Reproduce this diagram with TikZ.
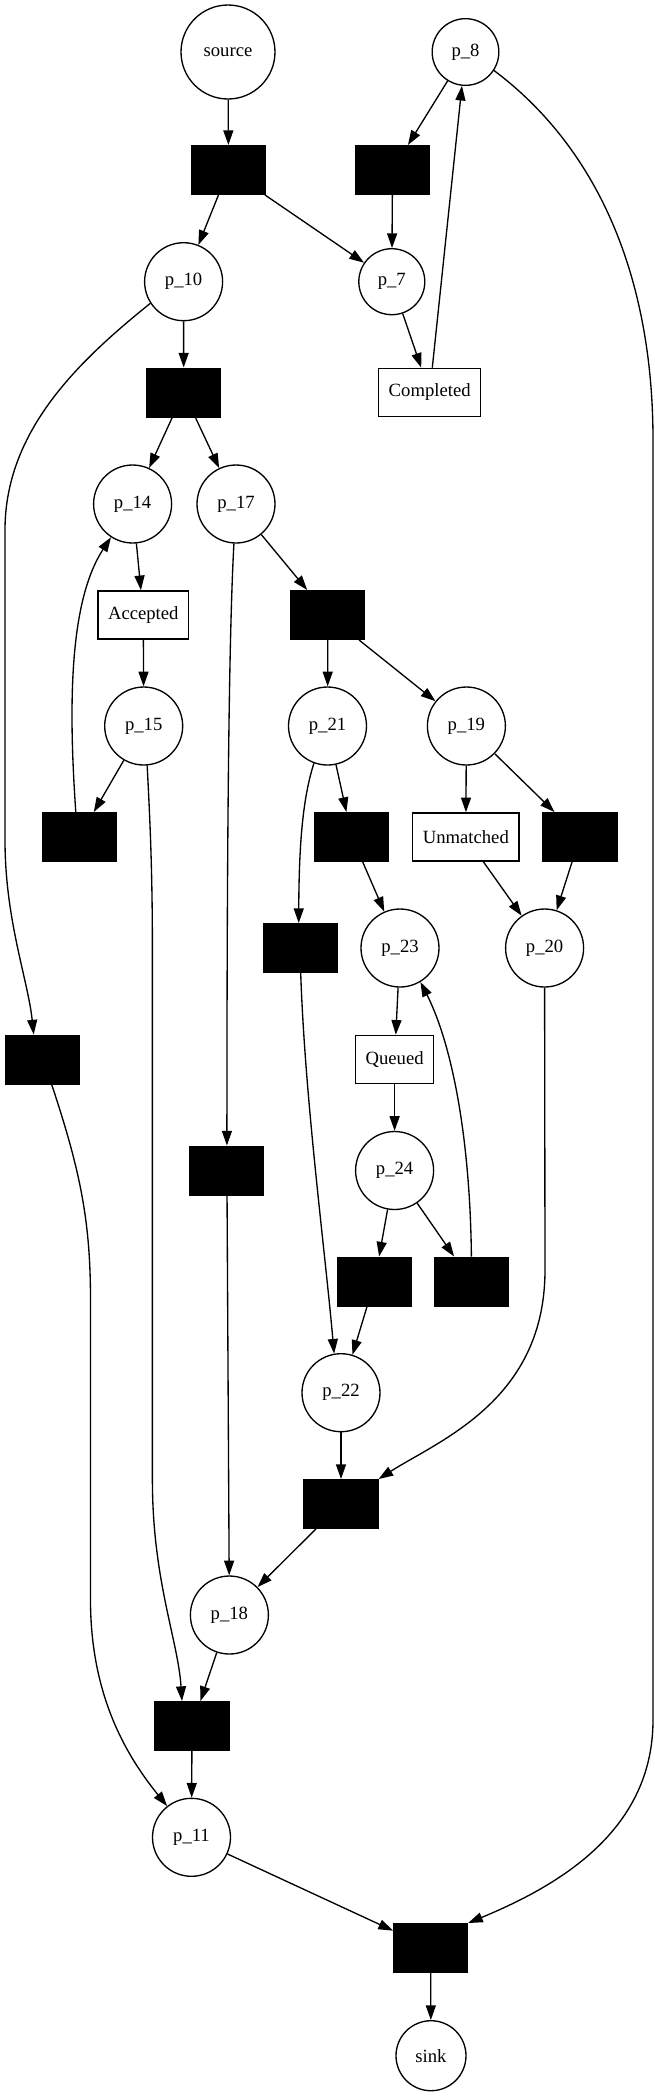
\documentclass[tikz,border=0pt]{standalone}
\usepackage{fontspec}
\setmainfont{Liberation Serif}
\usetikzlibrary{arrows.meta,calc}
\begin{document}
\begin{tikzpicture}[x=0.75pt,y=-0.75pt,line width=1pt,
  place/.style={circle,draw,inner sep=0pt,minimum size=58.5pt,font=\fontsize{14}{16}\selectfont},
  trans/.style={rectangle,draw,fill=black,minimum width=55.3pt,minimum height=36.5pt,inner sep=0pt},
  lbox/.style={rectangle,draw,minimum height=36.2pt,inner sep=0pt,font=\fontsize{14}{16}\selectfont},
  arc/.style={-{Triangle[length=11pt,width=7.5pt]}}]
\useasboundingbox (0,0) rectangle (655,2096);
% places
\node[place,minimum size=70.5pt] (source) at (228,52) {source};
\node[place,minimum size=50pt] (p8) at (465.5,52) {p\_8};
\node[place] (p10) at (183.6,281.7) {p\_10};
\node[place,minimum size=49.5pt] (p7) at (391.8,281.7) {p\_7};
\node[place] (p14) at (132.6,504) {p\_14};
\node[place] (p17) at (236,504) {p\_17};
\node[place] (p15) at (143.7,726) {p\_15};
\node[place] (p21) at (327.5,726) {p\_21};
\node[place] (p19) at (466.4,726) {p\_19};
\node[place] (p23) at (400,948) {p\_23};
\node[place] (p20) at (544.6,948) {p\_20};
\node[place] (p24) at (394.6,1170.5) {p\_24};
\node[place] (p22) at (341,1392.7) {p\_22};
\node[place] (p18) at (229.4,1615) {p\_18};
\node[place] (p11) at (191.5,1837.3) {p\_11};
\node[place,minimum size=52.5pt] (sink) at (431,2055.7) {sink};
% transitions
\node[trans] (T1) at (228.5,170) {};
\node[trans] (T2) at (392.5,170) {};
\node[trans] (T3) at (183.7,392.5) {};
\node[trans] (T4) at (327.9,615) {};
\node[trans] (T5) at (79.3,837) {};
\node[trans] (T6) at (351.9,837) {};
\node[trans] (T7) at (580,837) {};
\node[trans] (T8) at (300.7,948) {};
\node[trans] (T9) at (42.7,1059.5) {};
\node[trans] (T10) at (226.9,1170.5) {};
\node[trans] (T11) at (374.6,1281.5) {};
\node[trans] (T12) at (471.4,1281.5) {};
\node[trans] (T13) at (341,1504) {};
\node[trans] (T14) at (192,1726) {};
\node[trans] (T15) at (430.6,1948) {};
% labelled transitions
\node[lbox,minimum width=76.4pt] (completed) at (429.7,392.5) {Completed};
\node[lbox,minimum width=67.9pt] (accepted) at (143.3,615) {Accepted};
\node[lbox,minimum width=79.9pt] (unmatched) at (465.8,837) {Unmatched};
\node[lbox,minimum width=58.4pt] (queued) at (394.6,1059.5) {Queued};
% straight arcs
\draw[arc] (source) -- (T1);
\draw[arc] (T1) -- (p10);
\draw[arc] (T1) -- (p7);
\draw[arc] (p8) -- (T2);
\draw[arc] (T2) -- (p7);
\draw[arc] (p7) -- (completed);
\draw[arc] (completed) -- (p8);
\draw[arc] (p10) -- (T3);
\draw[arc] (T3) -- (p14);
\draw[arc] (T3) -- (p17);
\draw[arc] (p14) -- (accepted);
\draw[arc] (accepted) -- (p15);
\draw[arc] (p15) -- (T5);
\draw[arc] (p17) -- (T4);
\draw[arc] (T4) -- (p21);
\draw[arc] (T4) -- (p19);
\draw[arc] (p21) -- (T6);
\draw[arc] (p19) -- (unmatched);
\draw[arc] (p19) -- (T7);
\draw[arc] (unmatched) -- (p20);
\draw[arc] (T7) -- (p20);
\draw[arc] (T6) -- (p23);
\draw[arc] (p23) -- (queued);
\draw[arc] (queued) -- (p24);
\draw[arc] (p24) -- (T11);
\draw[arc] (p24) -- (T12);
\draw[arc] (T11) -- (p22);
\draw[arc] (p22) -- (T13);
\draw[arc] (T13) -- (p18);
\draw[arc] (T10) -- (p18);
\draw[arc] (p18) -- (T14);
\draw[arc] (T14) -- (p11);
\draw[arc] (p11) -- (T15);
\draw[arc] (T15) -- (sink);
% curved arcs
\draw[arc] (p8.-33) .. controls (600,150) and (653,280) .. (653,440) -- (653,1720) .. controls (653,1830) and (560,1885) .. (T15.north east);
\draw[arc] (p10.213) .. controls (80,360) and (5,430) .. (5,530) -- (5,840) .. controls (5,920) and (28,980) .. ($(T9.north)+(-9,0)$);
\draw[arc] ($(T9.south)+(9,0)$) .. controls (80,1170) and (90.5,1220) .. (90.5,1300) -- (90.5,1600) .. controls (90.5,1700) and (130,1760) .. (p11.128);
\draw[arc] ($(T5.north)+(-3.5,0)$) .. controls (68,700) and (70,600) .. (p14.237);
\draw[arc] (p15.-85) .. controls (150,820) and (152.4,870) .. (152.4,950) -- (152.4,1480) .. controls (152.4,1580) and (178,1640) .. ($(T14.north)+(-10,0)$);
\draw[arc] (p17.-93) .. controls (228,650) and (227,900) .. (T10.north);
\draw[arc] (p21.-110) .. controls (302,800) and (299,850) .. ($(T8.north)+(-2,0)$);
\draw[arc] (T8.south) .. controls (305,1100) and (325,1250) .. (p22.100);
\draw[arc] (p20.south) -- (545,1270) .. controls (545,1400) and (440,1440) .. (T13.north east);
\draw[arc] (T12.north) .. controls (470,1130) and (450,1040) .. (p23.-59);
\end{tikzpicture}
\end{document}
